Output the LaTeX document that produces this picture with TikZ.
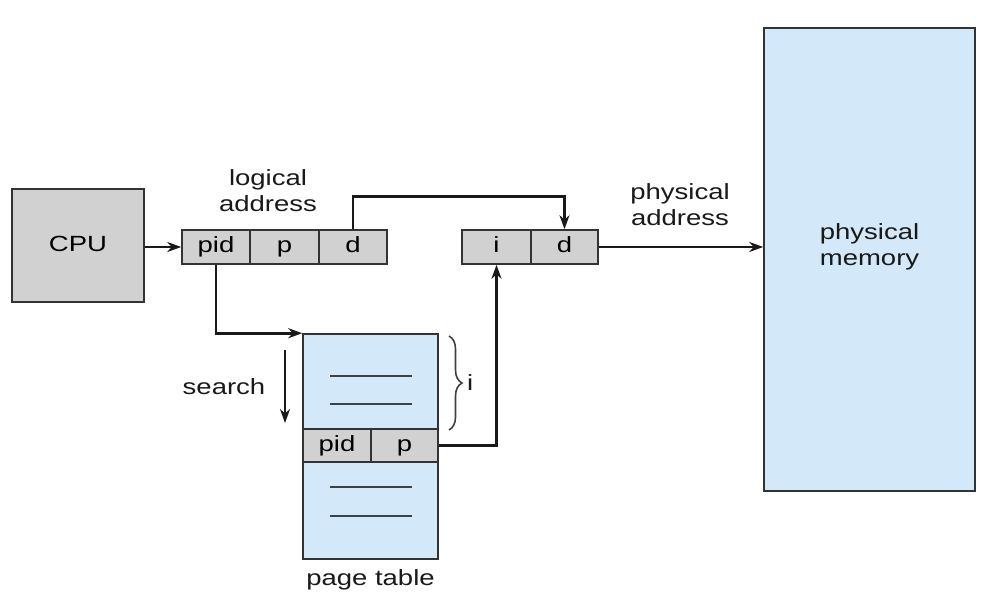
\documentclass[tikz,border=0pt]{standalone}
\usepackage{fontspec}
\setmainfont{Liberation Sans}[FakeStretch=1.25]
\usepackage{xcolor}
\usetikzlibrary{arrows.meta,decorations.pathreplacing}
\colorlet{box edge}{black!80}
\colorlet{cell area}{black!18}
\definecolor{mem area}{HTML}{D3E8F8}
\tikzset{cell/.style={draw=box edge, fill=cell area, line width=1.6pt, inner sep=0pt,
        minimum height=34pt, text height=16pt, text depth=5pt,
        font=\fontsize{22}{26}\selectfont},
    memory/.style={draw=box edge, fill=mem area, line width=1.6pt, inner sep=0pt},
    caption/.style={align=center, text=black!90, font=\fontsize{22}{26}\selectfont},
    link/.style={draw=black!90, line width=2.8pt, -{Stealth[length=14pt,width=10pt]}},
    entry/.style={draw=black!75, line width=1.6pt}}

\begin{document}
\begin{tikzpicture}[x=1pt, y=-1pt]
    \useasboundingbox (0,0) rectangle (993,607);
    % cpu and logical address
    \node[cell, minimum width=132pt, minimum height=113pt] (cpu) at (78,245.5) {CPU};
    \node[cell, minimum width=68pt] (lpid) at (216,247) {pid};
    \node[cell, minimum width=69pt] (lp)   at (284.5,247) {p};
    \node[cell, minimum width=68pt] (ld)   at (353,247) {d};
    \node[caption] (logaddr) at (268,191) {logical\\address};
    % physical address and memory
    \node[cell, minimum width=69pt] (pi) at (496.5,247) {i};
    \node[cell, minimum width=67pt] (pd) at (564.5,247) {d};
    \node[caption] (physaddr) at (680,205) {physical\\address};
    \node[memory, minimum width=211pt, minimum height=463pt] (mem) at (869.5,259.5) {};
    \node[caption] (memlabel) at (869.5,247) {physical\\memory};
    % page table
    \node[memory, minimum width=135pt, minimum height=225pt] (ptab) at (370.5,446.5) {};
    \node[cell, minimum width=68pt, minimum height=33pt] (rpid) at (337,445.5) {pid};
    \node[cell, minimum width=67pt, minimum height=33pt] (rp)   at (404.5,445.5) {p};
    \foreach \y in {376,404,487,516}
        \draw[entry] (330,\y) -- (412,\y);
    \node[caption] (ptlabel) at (370.5,580) {page table};
    \draw[entry, decorate, decoration={brace, amplitude=13pt}]
        (449,336) -- (449,430) node[midway, right=14pt, caption] (idx) {i};
    \coordinate (s1) at (285,350);
    \coordinate (s2) at (285,423);
    \node[caption] (search) at (224,387) {search};
    % connectors
    \draw[link] (cpu.east |- lpid.west) -- (lpid.west);
    \draw[link] (ld.north) -- ++(0,-33) -| (pd.north);
    \draw[link] (lpid.south) |- (ptab.north west);
    \draw[link] (s1) -- (s2);
    \draw[link] (rp.east) -| (pi.south);
    \draw[link] (pd.east) -- (pd.east -| mem.west);
\end{tikzpicture}
\end{document}
